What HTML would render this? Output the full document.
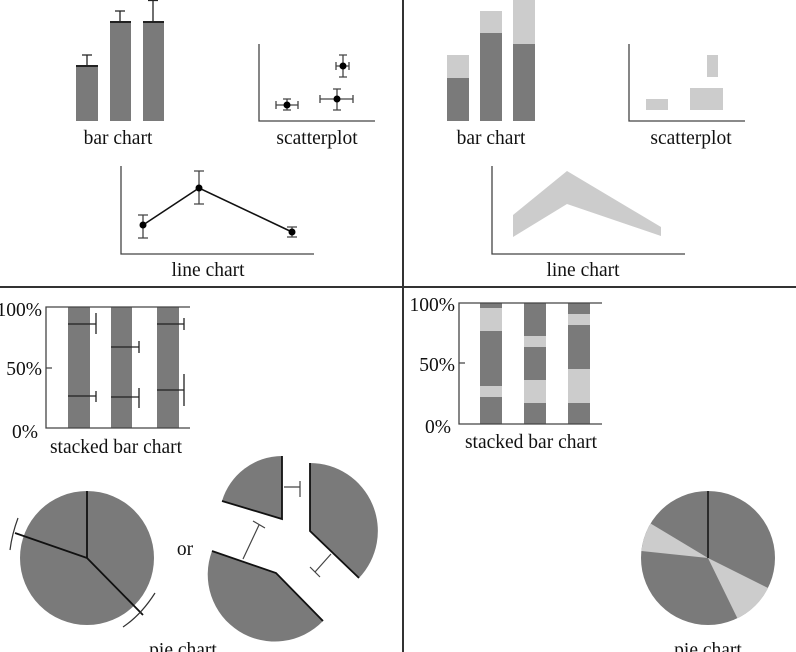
<!DOCTYPE html>
<html><head><meta charset="utf-8"><style>
html,body{margin:0;padding:0;background:#fff;}
svg{display:block;}
text{font-family:"Liberation Serif",serif;font-size:19.5px;fill:#111;}
</style></head><body>
<svg width="796" height="652" viewBox="0 0 796 652" xmlns="http://www.w3.org/2000/svg">
<g stroke="#333" stroke-width="2" fill="none">
<line x1="0" y1="287" x2="796" y2="287"/>
<line x1="403" y1="0" x2="403" y2="652"/>
</g>
<g fill="#7a7a7a">
<rect x="76" y="66" width="22" height="55"/>
<rect x="110" y="22" width="21" height="99"/>
<rect x="143" y="22" width="21" height="99"/>
</g>
<g stroke="#222" stroke-width="1.3" fill="none">
<line x1="76" y1="66" x2="98" y2="66" stroke-width="2"/>
<line x1="110" y1="22" x2="131" y2="22" stroke-width="2"/>
<line x1="143" y1="22" x2="164" y2="22" stroke-width="2"/>
<path d="M87 66V55M82 55H92M120 22V11M115 11H125M153 22V0M148 0.5H158"/>
</g>
<text x="118" y="144" text-anchor="middle">bar chart</text>
<g stroke="#444" stroke-width="1.3" fill="none">
<path d="M259 44V121H375"/>
<path d="M276 105H298M276 101V109M298 101V109M287 99V110M283 99H291M283 110H291"/>
<path d="M320 99H353M320 95V103M353 95V103M337 89V110M333 89H341M333 110H341"/>
<path d="M343 55V77M339 55H347M339 77H347M336 66H349M336 62V70M349 62V70"/>
</g>
<g fill="#000"><circle cx="287" cy="105" r="3.5"/><circle cx="337" cy="99" r="3.5"/><circle cx="343" cy="66" r="3.5"/></g>
<text x="317" y="144" text-anchor="middle">scatterplot</text>
<g stroke="#444" stroke-width="1.3" fill="none">
<path d="M121 166V254H314"/>
<path d="M143 215V238M138 215H148M138 238H148M199 171V204M194 171H204M194 204H204M292 227V237M287 227H297M287 237H297"/>
</g>
<polyline points="143,225 199,188 292,232" fill="none" stroke="#111" stroke-width="1.6"/>
<g fill="#000"><circle cx="143" cy="225" r="3.5"/><circle cx="199" cy="188" r="3.5"/><circle cx="292" cy="232" r="3.5"/></g>
<text x="208" y="276" text-anchor="middle">line chart</text>

<g fill="#ccc"><rect x="447" y="55" width="22" height="66"/><rect x="480" y="11" width="22" height="110"/><rect x="513" y="0" width="22" height="121"/></g>
<g fill="#7a7a7a"><rect x="447" y="78" width="22" height="43"/><rect x="480" y="33" width="22" height="88"/><rect x="513" y="44" width="22" height="77"/></g>
<text x="491" y="144" text-anchor="middle">bar chart</text>
<path d="M629 44V121H745" stroke="#444" stroke-width="1.3" fill="none"/>
<g fill="#ccc"><rect x="646" y="99" width="22" height="11"/><rect x="690" y="88" width="33" height="22"/><rect x="707" y="55" width="11" height="22"/></g>
<text x="691" y="144" text-anchor="middle">scatterplot</text>
<path d="M492 166V254H685" stroke="#444" stroke-width="1.3" fill="none"/>
<polygon points="513,215 567,171 661,227 661,236 567,204 513,237" fill="#ccc"/>
<text x="583" y="276" text-anchor="middle">line chart</text>

<g fill="#7a7a7a"><rect x="68" y="307" width="22" height="121"/><rect x="111" y="307" width="21" height="121"/><rect x="157" y="307" width="22" height="121"/></g>
<g stroke="#444" stroke-width="1.3" fill="none">
<path d="M190 307H46V428H190M46 368H52"/>
</g>
<g stroke="#222" stroke-width="1.3" fill="none">
<path d="M68 324H96M96 313V334M68 396H96M96 391V402"/>
<path d="M111 347H139M139 341V353M111 397H139M139 388V408"/>
<path d="M157 324H184M184 318V330M157 390H184M184 374V406"/>
</g>
<text x="42" y="316" text-anchor="end">100%</text>
<text x="42" y="375" text-anchor="end">50%</text>
<text x="38" y="438" text-anchor="end">0%</text>
<text x="116" y="453" text-anchor="middle">stacked bar chart</text>
<circle cx="87" cy="558" r="67" fill="#7a7a7a"/>
<g stroke="#111" stroke-width="1.8" fill="none">
<path d="M87 491V558L15 533M87 558L143 615"/>
</g>
<g stroke="#333" stroke-width="1.2" fill="none">
<path d="M18 518Q12 534 10 550"/>
<path d="M155 593Q141 615 123 627"/>
</g>
<text x="185" y="555" text-anchor="middle">or</text>
<g fill="#7a7a7a">
<path d="M282 519L222 501A63 63 0 0 1 282 456Z"/>
<path d="M310 531L310 463A68 68 0 0 1 359 578Z"/>
<path d="M276 573L323 621A67 67 0 0 1 212 551Z"/>
</g>
<g stroke="#111" stroke-width="1.8" fill="none">
<path d="M222 501L282 519V456"/>
<path d="M310 463V531L359 578"/>
<path d="M212 551L276 573L323 621"/>
</g>
<g stroke="#444" stroke-width="1.2" fill="none">
<path d="M284 487H300M300 481V497"/>
<path d="M331 554L315 572M310 567L320 577"/>
<path d="M243 559L259 525M253 521L265 528"/>
</g>
<text x="183" y="656" text-anchor="middle">pie chart</text>

<g>
<rect x="480" y="303" width="22" height="121" fill="#7a7a7a"/>
<rect x="480" y="308" width="22" height="23" fill="#ccc"/>
<rect x="480" y="386" width="22" height="11" fill="#ccc"/>
<rect x="524" y="303" width="22" height="121" fill="#7a7a7a"/>
<rect x="524" y="336" width="22" height="11" fill="#ccc"/>
<rect x="524" y="380" width="22" height="23" fill="#ccc"/>
<rect x="568" y="303" width="22" height="121" fill="#7a7a7a"/>
<rect x="568" y="314" width="22" height="11" fill="#ccc"/>
<rect x="568" y="369" width="22" height="34" fill="#ccc"/>
</g>
<path d="M602 303H459V424H602M459 363H465" stroke="#444" stroke-width="1.3" fill="none"/>
<text x="455" y="311" text-anchor="end">100%</text>
<text x="455" y="371" text-anchor="end">50%</text>
<text x="451" y="433" text-anchor="end">0%</text>
<text x="531" y="448" text-anchor="middle">stacked bar chart</text>
<circle cx="708" cy="558" r="67" fill="#7a7a7a"/>
<path d="M708 558L768 588A67 67 0 0 1 737.4 618.2Z" fill="#ccc"/>
<path d="M708 558L641.4 551A67 67 0 0 1 650.6 523.5Z" fill="#ccc"/>
<line x1="708" y1="491" x2="708" y2="558" stroke="#111" stroke-width="1.5"/>
<text x="708" y="656" text-anchor="middle">pie chart</text>
</svg>
</body></html>
